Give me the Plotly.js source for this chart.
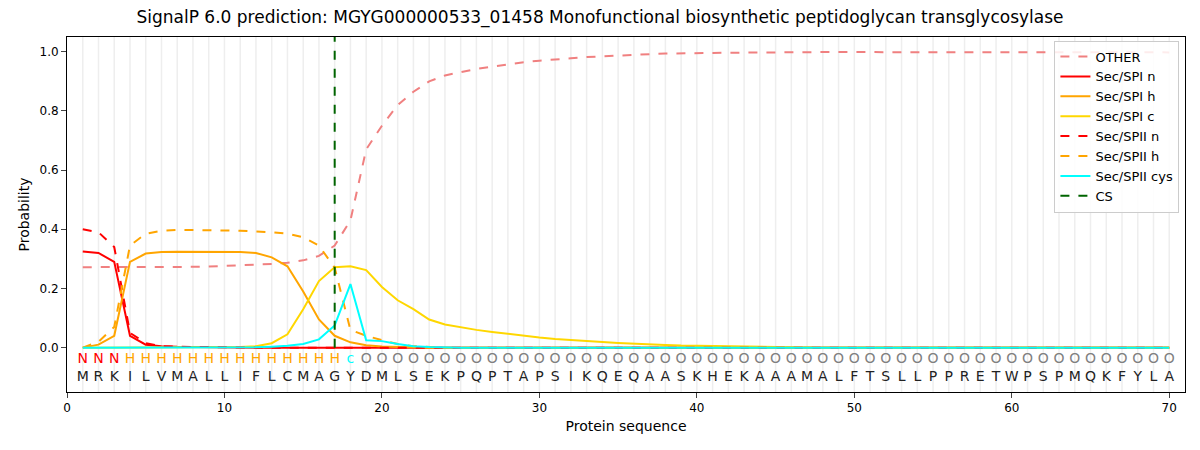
<!DOCTYPE html>
<html><head><meta charset="utf-8">
<script src="https://cdn.plot.ly/plotly-3.0.1.min.js"></script>
<style>body{margin:0}#c{width:1200px;height:450px}</style></head>
<body><div id="c"></div>
<script>
const seq = 'MRKILVMALLIFLCMAGYDMLSEKPQPTAPSIKQEQAASKHEKAAAMALFTSLLPPRETWPSPMQKFYLA'.split('');
const regions = 'NNNHHHHHHHHHHHHHHcOOOOOOOOOOOOOOOOOOOOOOOOOOOOOOOOOOOOOOOOOOOOOOOOOOOO'.split('');
const pos = seq.map((_, i) => i + 1);
function pad(a, v) { while (a.length < 70) a.push(v); return a; }
const other = pad([.272,.272,.272,.271,.271,.271,.272,.273,.274,.276,.278,.28,.283,.287,.295,.31,.345,.43,.67,.75,.82,.865,.9,.92,.932,.942,.95,.958,.965,.97,.975,.978,.982,.985,.988,.99,.992,.994,.995,.996,.997,.997,.998,.998,.998,.999,.999,.999,.999,.999], .998);
const spiN = pad([.325,.32,.29,.04,.01,.005,.003,.002,.001], 0);
const spiH = pad([0,.01,.04,.29,.318,.323,.324,.324,.324,.324,.323,.32,.305,.275,.19,.095,.04,.018,.008,.004,.002,.001], 0);
const spiC = pad([0,0,0,0,0,0,0,0,0,.001,.002,.005,.015,.045,.13,.225,.272,.275,.262,.205,.16,.13,.095,.078,.068,.06,.053,.046,.04,.034,.029,.025,.022,.019,.016,.013,.011,.009,.007,.006,.005,.004,.003,.002,.002,.001], 0);
const spiiN = pad([.4,.39,.34,.05,.015,.005,.003,.002,.001], 0);
const spiiH = pad([0,.02,.07,.345,.385,.395,.398,.398,.397,.396,.395,.393,.39,.385,.373,.345,.27,.06,.04,.025,.012,.005,.002], 0);
const spiiCys = pad([0,0,0,0,0,0,0,0,0,0,0,.001,.003,.006,.012,.028,.075,.215,.025,.022,.012,.005,.002], 0);
const csPos = 17;

const regColor = {N: 'red', H: 'orange', c: 'cyan', O: 'gray'};
const line = (y, name, color, dash) => ({x: pos, y, name, mode: 'lines', type: 'scatter',
  line: {color, width: 2, dash: dash || 'solid'}});
const traces = [
  line(other, 'OTHER', '#f08080', 'dash'),
  line(spiN, 'Sec/SPI n', 'red'),
  line(spiH, 'Sec/SPI h', 'orange'),
  line(spiC, 'Sec/SPI c', 'gold'),
  line(spiiN, 'Sec/SPII n', 'red', 'dash'),
  line(spiiH, 'Sec/SPII h', 'orange', 'dash'),
  line(spiiCys, 'Sec/SPII cys', 'cyan'),
  {x: [csPos, csPos], y: [0, 1.05], name: 'CS', mode: 'lines', line: {color: 'darkgreen', width: 2, dash: 'dash'}},
  {x: pos, y: pos.map(() => -0.04), text: regions, mode: 'text', showlegend: false, hoverinfo: 'skip',
   textfont: {size: 14, color: regions.map(r => regColor[r])}},
  {x: pos, y: pos.map(() => -0.1), text: seq, mode: 'text', showlegend: false, hoverinfo: 'skip',
   textfont: {size: 14, color: '#222'}}
];
Plotly.newPlot('c', traces, {
  width: 1200, height: 450,
  margin: {l: 67, r: 15, t: 37, b: 58},
  font: {family: 'DejaVu Sans', size: 12, color: '#000'},
  title: {text: 'SignalP 6.0 prediction: MGYG000000533_01458 Monofunctional biosynthetic peptidoglycan transglycosylase', font: {size: 17}, x: 0.5, y: 0.975},
  xaxis: {range: [0, 71], title: {text: 'Protein sequence', standoff: 6}, tickvals: [0,10,20,30,40,50,60,70],
    showgrid: false, zeroline: false, showline: true, mirror: true, linecolor: '#000', ticks: 'outside'},
  yaxis: {range: [-0.15, 1.05], title: {text: 'Probability'}, tickvals: [0,.2,.4,.6,.8,1], ticktext: ['0.0','0.2','0.4','0.6','0.8','1.0'],
    showgrid: false, zeroline: false, showline: true, mirror: true, linecolor: '#000', ticks: 'outside'},
  shapes: pos.map(p => ({type: 'line', x0: p, x1: p, y0: 0, y1: 1, yref: 'paper', layer: 'below', line: {color: '#eee', width: 1.5}})),
  legend: {x: 0.995, y: 0.99, xanchor: 'right', bordercolor: '#ccc', borderwidth: 1, bgcolor: 'rgba(255,255,255,0.85)', font: {size: 13}},
  plot_bgcolor: '#fff'
}, {displayModeBar: false});
</script></body></html>
